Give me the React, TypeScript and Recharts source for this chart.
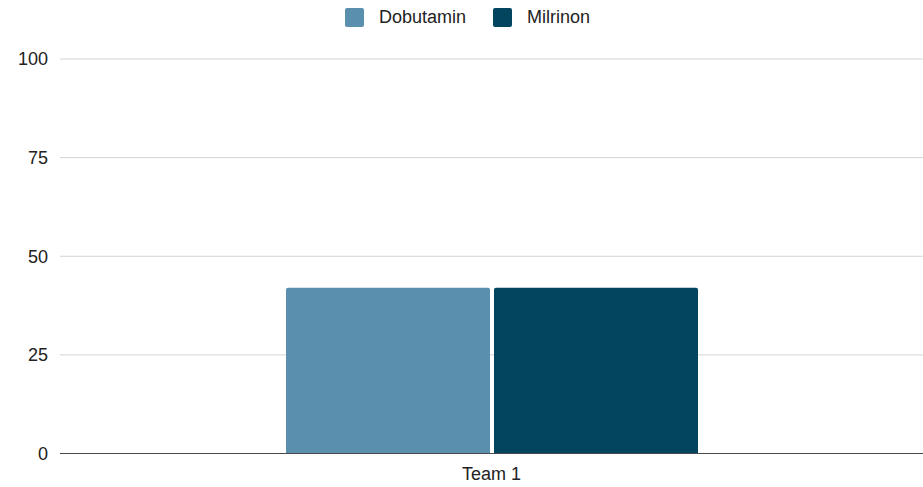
import { Bar, BarChart, CartesianGrid, XAxis, YAxis } from "recharts";

const categories = ["Team 1"];
const dobutamin = [42];
const milrinon = [42];
const seriesNames = ["Dobutamin", "Milrinon"];
const seriesColors = ["#5a8fae", "#03455f"];
const yTicks = [0, 25, 50, 75, 100];

const data = categories.map((name, i) => ({
  name,
  Dobutamin: dobutamin[i],
  Milrinon: milrinon[i],
}));

const font = "'Liberation Sans', Arial, sans-serif";

export default function App() {
  return (
    <div style={{ position: "absolute", left: 0, top: 0, width: 923, height: 487, background: "#fff", fontFamily: font }}>
      <div style={{ position: "absolute", top: 7, left: 345, display: "flex", alignItems: "center", fontSize: 18, color: "#222" }}>
        {seriesNames.map((s, i) => (
          <div key={s} style={{ display: "flex", alignItems: "center", marginRight: 27 }}>
            <span style={{ width: 19, height: 19, borderRadius: 2, background: seriesColors[i], marginRight: 15 }} />
            <span>{s}</span>
          </div>
        ))}
      </div>
      <BarChart width={923} height={487} data={data} margin={{ top: 59, right: 0, bottom: 0, left: 0 }} barGap={4}>
        <CartesianGrid stroke="#d4d4d4" vertical={false} />
        <XAxis
          dataKey="name"
          height={33.5}
          tickLine={false}
          tickSize={0}
          tickMargin={14}
          axisLine={{ stroke: "#4a4a4a" }}
          tick={{ fill: "#222", fontSize: 18, fontFamily: font }}
        />
        <YAxis
          domain={[0, 100]}
          ticks={yTicks}
          width={60}
          axisLine={false}
          tickLine={false}
          tickSize={0}
          tickMargin={12}
          tick={{ fill: "#222", fontSize: 18, fontFamily: font }}
        />
        {seriesNames.map((s, i) => (
          <Bar key={s} dataKey={s} fill={seriesColors[i]} barSize={204} radius={[2, 2, 0, 0]} isAnimationActive={false} />
        ))}
      </BarChart>
    </div>
  );
}
